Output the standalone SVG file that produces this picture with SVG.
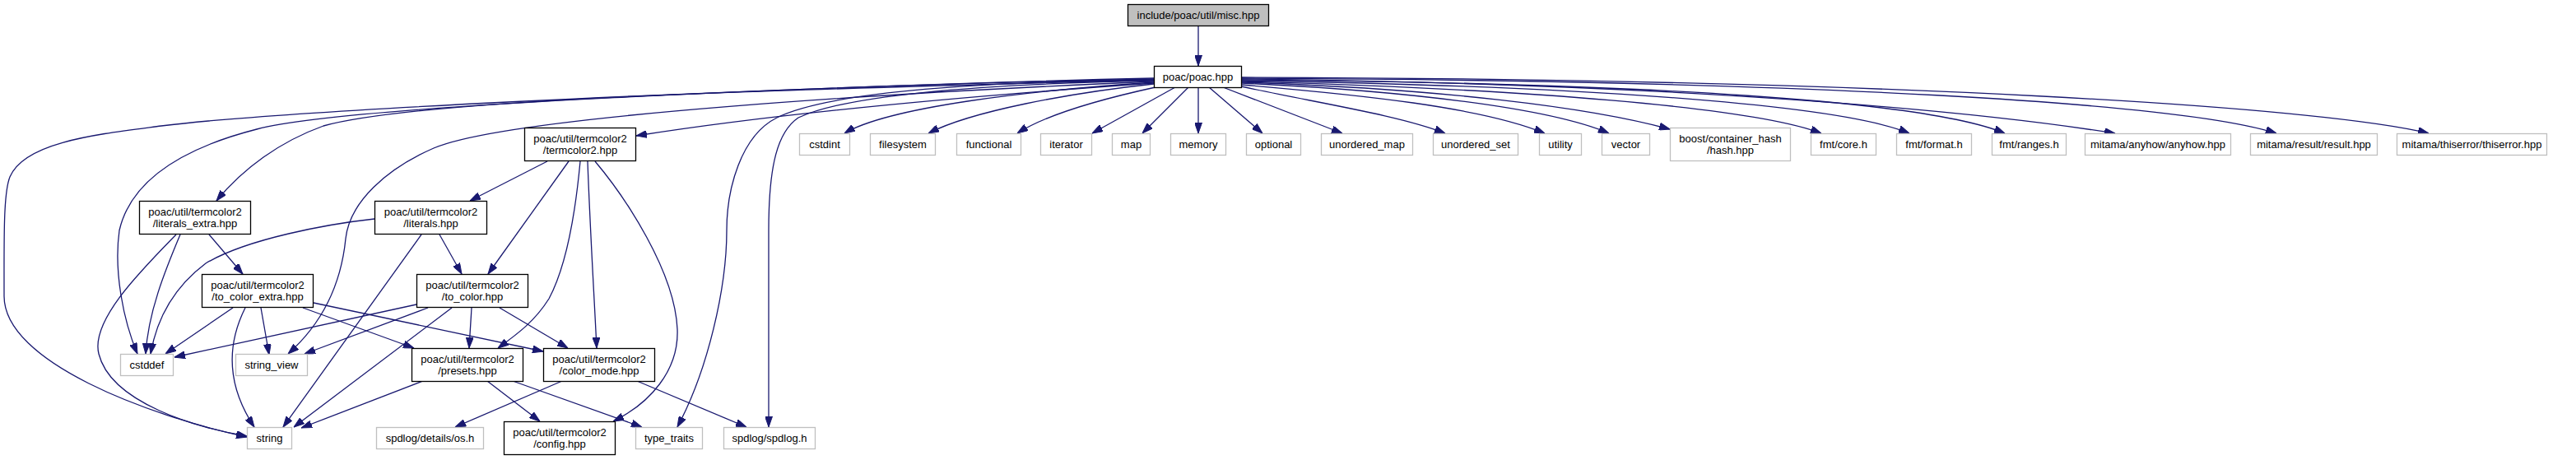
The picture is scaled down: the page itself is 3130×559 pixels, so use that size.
<svg xmlns="http://www.w3.org/2000/svg" width="3130" height="559" viewBox="0 0 3130 559">
<style>
  text { font-family: "Liberation Sans", Arial, sans-serif; font-size: 13px; fill: #000; text-anchor: middle; }
  .main rect { fill: #bfbfbf; stroke: #000; stroke-width: 1.3; }
  .int rect { fill: #fff; stroke: #000; stroke-width: 1.3; }
  .ext rect { fill: #fff; stroke: #bfbfbf; stroke-width: 1.3; }
  #edges path { fill: none; stroke: #191970; stroke-width: 1.3; marker-end: url(#ah); }
</style>
<defs>
  <marker id="ah" viewBox="0 0 13 9" refX="13" refY="4.5" markerWidth="13" markerHeight="9" orient="auto" markerUnits="userSpaceOnUse">
    <path d="M0,0 L13,4.5 L0,9 z" fill="#191970" stroke="#191970" stroke-width="1"/>
  </marker>
</defs>
<rect width="3130" height="559" fill="#fff"/>
<g id="edges">
  <path d="M1456,32 L1456,80"/>
  <path d="M1402,95 C1100,102 400,128 196,153 C120,163 30,172 12,215 C4,235 5,290 5,360 C5,440 180,505 300,531"/>
  <path d="M1402,96 C1000,104 420,128 312,157 C230,178 160,215 145,280 C138,330 150,390 167,430"/>
  <path d="M1402,97 C1000,108 520,118 393,153 C340,172 295,205 263,244"/>
  <path d="M1402,99 C1100,112 620,140 527,180 C470,205 425,245 420,290 C415,340 395,390 350,430"/>
  <path d="M1402,101 C1200,115 950,137 773,165"/>
  <path d="M1402,97 C1150,100 1000,115 944,143 C900,165 883,230 883,280 C883,350 860,450 823,519"/>
  <path d="M1402,98 C1200,102 1030,115 970,143 C945,160 934,200 934,280 L934,519"/>
  <path d="M1402,100 C1250,110 1080,130 1026,162"/>
  <path d="M1402,102 C1300,113 1180,135 1128,162"/>
  <path d="M1404,106 C1340,120 1270,140 1236,162"/>
  <path d="M1428,106 L1327,162"/>
  <path d="M1444,106 L1388,162"/>
  <path d="M1456,106 L1456,162"/>
  <path d="M1469,106 L1534,162"/>
  <path d="M1486,106 L1631,162"/>
  <path d="M1508,105 C1600,125 1700,140 1756,162"/>
  <path d="M1509,103 C1650,115 1800,130 1877,162"/>
  <path d="M1509,101 C1700,110 1880,130 1955,162"/>
  <path d="M1509,100 C1750,108 1930,130 2029,157"/>
  <path d="M1509,99 C1850,108 2130,130 2213,162"/>
  <path d="M1509,98 C1900,104 2230,125 2320,162"/>
  <path d="M1509,97 C2000,101 2340,122 2436,162"/>
  <path d="M1509,96 C2050,102 2400,135 2570,162"/>
  <path d="M1509,95 C2200,98 2650,125 2766,162"/>
  <path d="M1509,94 C2300,96 2820,130 2951,162"/>
  <path d="M665,196 L571,244"/>
  <path d="M691,196 L593,333"/>
  <path d="M705,196 C700,250 690,320 667,363 C650,390 630,405 605,423"/>
  <path d="M714,196 C717,280 722,360 725,423"/>
  <path d="M723,196 C760,240 820,330 823,400 C825,450 790,490 745,512"/>
  <path d="M214,285 C170,330 110,390 120,430 C135,490 240,520 300,530"/>
  <path d="M219,285 C200,330 180,380 177,430"/>
  <path d="M254,285 L295,333"/>
  <path d="M455,266 C400,272 300,290 250,320 C210,350 190,390 183,430"/>
  <path d="M512,285 L344,519"/>
  <path d="M534,285 L561,333"/>
  <path d="M283,374 L201,430"/>
  <path d="M298,374 C280,410 270,460 309,519"/>
  <path d="M317,374 L327,431"/>
  <path d="M368,374 L503,423"/>
  <path d="M381,368 L660,427"/>
  <path d="M506,370 L212,434"/>
  <path d="M520,374 L370,430"/>
  <path d="M549,374 L357,519"/>
  <path d="M573,374 L570,423"/>
  <path d="M607,374 L690,423"/>
  <path d="M514,463 L366,520"/>
  <path d="M592,463 L656,512"/>
  <path d="M623,463 L780,519"/>
  <path d="M683,463 L553,519"/>
  <path d="M774,463 L907,519"/>
</g>
<g id="n_misc" class="main"><rect x="1370.5" y="5.5" width="171" height="26"/><text x="1456" y="23">include/poac/util/misc.hpp</text></g>
<g id="n_poac" class="int"><rect x="1402.5" y="80.5" width="106" height="26"/><text x="1455.5" y="98">poac/poac.hpp</text></g>
<g id="n_cstdint" class="ext"><rect x="971.5" y="162.5" width="61" height="26"/><text x="1002" y="180">cstdint</text></g>
<g id="n_filesystem" class="ext"><rect x="1057.5" y="162.5" width="79" height="26"/><text x="1097" y="180">filesystem</text></g>
<g id="n_functional" class="ext"><rect x="1162.5" y="162.5" width="78" height="26"/><text x="1201.5" y="180">functional</text></g>
<g id="n_iterator" class="ext"><rect x="1264.5" y="162.5" width="62" height="26"/><text x="1295.5" y="180">iterator</text></g>
<g id="n_map" class="ext"><rect x="1351.5" y="162.5" width="46" height="26"/><text x="1374.5" y="180">map</text></g>
<g id="n_memory" class="ext"><rect x="1422.5" y="162.5" width="67" height="26"/><text x="1456" y="180">memory</text></g>
<g id="n_optional" class="ext"><rect x="1514.5" y="162.5" width="66" height="26"/><text x="1547.5" y="180">optional</text></g>
<g id="n_umap" class="ext"><rect x="1605.5" y="162.5" width="111" height="26"/><text x="1661" y="180">unordered_map</text></g>
<g id="n_uset" class="ext"><rect x="1741.5" y="162.5" width="103" height="26"/><text x="1793" y="180">unordered_set</text></g>
<g id="n_utility" class="ext"><rect x="1870.5" y="162.5" width="51" height="26"/><text x="1896" y="180">utility</text></g>
<g id="n_vector" class="ext"><rect x="1946.5" y="162.5" width="58" height="26"/><text x="1975.5" y="180">vector</text></g>
<g id="n_boost" class="ext"><rect x="2029.5" y="155.5" width="146" height="40"/><text x="2102.5" y="172.5">boost/container_hash</text><text x="2102.5" y="187">/hash.hpp</text></g>
<g id="n_fmtcore" class="ext"><rect x="2200.5" y="162.5" width="79" height="26"/><text x="2240" y="180">fmt/core.h</text></g>
<g id="n_fmtformat" class="ext"><rect x="2304.5" y="162.5" width="91" height="26"/><text x="2350" y="180">fmt/format.h</text></g>
<g id="n_fmtranges" class="ext"><rect x="2420.5" y="162.5" width="90" height="26"/><text x="2465.5" y="180">fmt/ranges.h</text></g>
<g id="n_anyhow" class="ext"><rect x="2533.5" y="162.5" width="177" height="26"/><text x="2622" y="180">mitama/anyhow/anyhow.hpp</text></g>
<g id="n_result" class="ext"><rect x="2734.5" y="162.5" width="154" height="26"/><text x="2811.5" y="180">mitama/result/result.hpp</text></g>
<g id="n_thiserror" class="ext"><rect x="2912.5" y="162.5" width="182" height="26"/><text x="3003.5" y="180">mitama/thiserror/thiserror.hpp</text></g>
<g id="n_termcolor2" class="int"><rect x="637.5" y="155.5" width="135" height="40"/><text x="705" y="172.5">poac/util/termcolor2</text><text x="705" y="187">/termcolor2.hpp</text></g>
<g id="n_literals_extra" class="int"><rect x="169.5" y="244.5" width="135" height="40"/><text x="237" y="261.5">poac/util/termcolor2</text><text x="237" y="276">/literals_extra.hpp</text></g>
<g id="n_literals" class="int"><rect x="455.5" y="244.5" width="136" height="40"/><text x="523.5" y="261.5">poac/util/termcolor2</text><text x="523.5" y="276">/literals.hpp</text></g>
<g id="n_to_color_extra" class="int"><rect x="245.5" y="333.5" width="135" height="40"/><text x="313" y="350.5">poac/util/termcolor2</text><text x="313" y="365">/to_color_extra.hpp</text></g>
<g id="n_to_color" class="int"><rect x="506.5" y="333.5" width="135" height="40"/><text x="574" y="350.5">poac/util/termcolor2</text><text x="574" y="365">/to_color.hpp</text></g>
<g id="n_cstddef" class="ext"><rect x="146.5" y="430.5" width="64" height="26"/><text x="178.5" y="448">cstddef</text></g>
<g id="n_string_view" class="ext"><rect x="286.5" y="430.5" width="87" height="26"/><text x="330" y="448">string_view</text></g>
<g id="n_presets" class="int"><rect x="500.5" y="423.5" width="135" height="40"/><text x="568" y="440.5">poac/util/termcolor2</text><text x="568" y="455">/presets.hpp</text></g>
<g id="n_color_mode" class="int"><rect x="660.5" y="423.5" width="135" height="40"/><text x="728" y="440.5">poac/util/termcolor2</text><text x="728" y="455">/color_mode.hpp</text></g>
<g id="n_string" class="ext"><rect x="300.5" y="519.5" width="54" height="26"/><text x="327.5" y="537">string</text></g>
<g id="n_os" class="ext"><rect x="457.5" y="519.5" width="130" height="26"/><text x="522.5" y="537">spdlog/details/os.h</text></g>
<g id="n_config" class="int"><rect x="612.5" y="512.5" width="135" height="40"/><text x="680" y="529.5">poac/util/termcolor2</text><text x="680" y="544">/config.hpp</text></g>
<g id="n_type_traits" class="ext"><rect x="772.5" y="519.5" width="81" height="26"/><text x="813" y="537">type_traits</text></g>
<g id="n_spdlog" class="ext"><rect x="879.5" y="519.5" width="111" height="26"/><text x="935" y="537">spdlog/spdlog.h</text></g>
</svg>
